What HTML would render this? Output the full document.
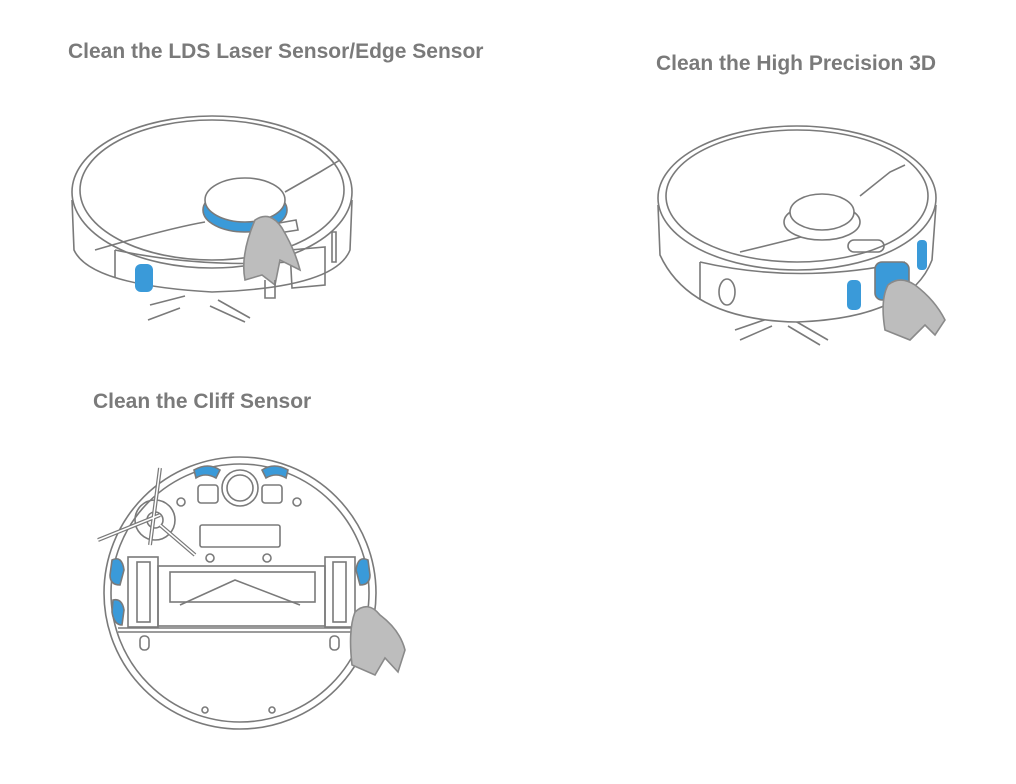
<!DOCTYPE html>
<html><head><style>
body{margin:0;background:#fff;width:1016px;height:784px;overflow:hidden}
svg{position:absolute;left:0;top:0}
text{font-family:"Liberation Sans",sans-serif;font-size:21px;fill:#7a7a7a;font-weight:bold}
</style></head><body>
<svg width="1016" height="784" viewBox="0 0 1016 784" fill="none" stroke="#7a7a7a" stroke-width="1.6">
<text x="68" y="58" stroke="none">Clean the LDS Laser Sensor/Edge Sensor</text>
<text x="656" y="70" stroke="none">Clean the High Precision 3D</text>
<text x="93" y="408" stroke="none">Clean the Cliff Sensor</text>

<!-- Robot 1 -->
<g>
<path d="M150 305 L185 296 M148 320 L180 308 M218 300 L250 318 M210 306 L245 322"/>
<path d="M72 200 L74 250 Q90 285 212 292 Q335 288 350 250 L352 200" fill="#fff"/>
<ellipse cx="212" cy="192" rx="140" ry="76" fill="#fff"/>
<ellipse cx="212" cy="190" rx="132" ry="70"/>
<path d="M115 250 L115 278 M115 250 Q200 268 290 262"/>
<rect x="135" y="264" width="18" height="28" rx="6" fill="#3a9ad9" stroke="none"/>
<path d="M332 232 L336 232 L336 262 L332 262 Z"/>
<path d="M290 250 L325 247 L325 285 L292 288 Z"/>
<path d="M95 250 Q170 228 205 222 M285 192 L320 172 L340 160"/>
<ellipse cx="245" cy="210" rx="42" ry="22" fill="#3a9ad9"/>
<ellipse cx="245" cy="200" rx="40" ry="22" fill="#fff"/>
<path d="M268 225 L296 220 L298 230 L272 234 Z"/>
<path d="M255 220 Q270 210 282 228 Q295 250 300 270 L280 260 L275 285 L262 275 L245 280 Q240 255 255 220 Z" fill="#bdbdbd" stroke="#8a8a8a"/>
<path d="M265 280 L265 298 L275 298 L275 280"/>
</g>

<!-- Robot 2 -->
<g>
<path d="M735 330 L770 318 M740 340 L772 326 M790 318 L828 340 M788 326 L820 345"/>
<path d="M658 205 L660 255 Q690 320 797 322 Q910 318 932 260 L936 205" fill="#fff"/>
<ellipse cx="797" cy="198" rx="139" ry="72" fill="#fff"/>
<ellipse cx="797" cy="196" rx="131" ry="66"/>
<path d="M700 262 L700 300 M700 262 Q800 285 905 262"/>
<ellipse cx="727" cy="292" rx="8" ry="13"/>
<rect x="847" y="280" width="14" height="30" rx="5" fill="#3a9ad9" stroke="none"/>
<rect x="875" y="262" width="34" height="38" rx="7" fill="#3a9ad9" stroke="#7a7a7a"/>
<rect x="917" y="240" width="10" height="30" rx="4" fill="#3a9ad9" stroke="none"/>
<path d="M740 252 Q790 240 820 232 M860 196 L890 172 L905 165"/>
<ellipse cx="822" cy="222" rx="38" ry="18" fill="#fff"/>
<ellipse cx="822" cy="212" rx="32" ry="18" fill="#fff"/>
<rect x="848" y="240" width="36" height="12" rx="6"/>
<path d="M888 285 Q900 275 915 285 Q935 300 945 320 L935 335 L925 325 L910 340 L885 330 Q880 300 888 285 Z" fill="#bdbdbd" stroke="#8a8a8a"/>
</g>

<!-- Robot 3 -->
<g>
<circle cx="240" cy="593" r="136" fill="#fff"/>
<circle cx="240" cy="593" r="129"/>
<circle cx="155" cy="520" r="20"/>
<circle cx="155" cy="520" r="8"/>
<path d="M160 468 L150 545 M98 540 L160 515 M160 525 L195 555" stroke-width="4"/>
<path d="M160 468 L150 545 M98 540 L160 515 M160 525 L195 555" stroke="#fff" stroke-width="1.5"/>
<circle cx="240" cy="488" r="18"/><circle cx="240" cy="488" r="13"/>
<rect x="198" y="485" width="20" height="18" rx="3"/><rect x="262" y="485" width="20" height="18" rx="3"/>
<path d="M194 470 Q208 462 220 470 L216 478 Q205 472 196 478 Z" fill="#3a9ad9"/>
<path d="M262 470 Q274 462 288 470 L286 478 Q276 472 266 478 Z" fill="#3a9ad9"/>
<rect x="200" y="525" width="80" height="22" rx="2"/>
<circle cx="181" cy="502" r="4"/><circle cx="297" cy="502" r="4"/>
<circle cx="210" cy="558" r="4"/><circle cx="267" cy="558" r="4"/>
<rect x="128" y="557" width="30" height="70"/><rect x="325" y="557" width="30" height="70"/>
<rect x="137" y="562" width="13" height="60"/><rect x="333" y="562" width="13" height="60"/>
<rect x="158" y="566" width="167" height="60"/>
<rect x="170" y="572" width="145" height="30"/>
<path d="M180 605 L235 580 L300 605"/>
<path d="M118 628 L365 628 M118 632 L365 632"/>
<path d="M112 560 Q122 555 124 570 L120 585 Q110 585 110 575 Z" fill="#3a9ad9"/>
<path d="M368 560 Q358 555 356 570 L360 585 Q370 585 370 575 Z" fill="#3a9ad9"/>
<path d="M113 600 Q122 598 124 610 L122 625 Q114 625 112 612 Z" fill="#3a9ad9"/>
<rect x="140" y="636" width="9" height="14" rx="4"/><rect x="330" y="636" width="9" height="14" rx="4"/>
<circle cx="205" cy="710" r="3"/><circle cx="272" cy="710" r="3"/>
<path d="M355 612 Q368 600 380 615 Q400 630 405 650 L398 672 L385 658 L375 675 L352 665 Q348 630 355 612 Z" fill="#bdbdbd" stroke="#8a8a8a"/>
</g>
</svg>
</body></html>
